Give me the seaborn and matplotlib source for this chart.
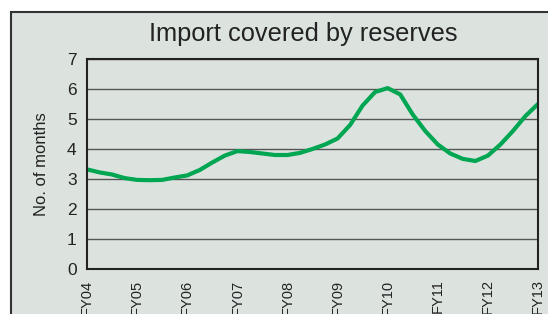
import numpy as np
import pandas as pd
import seaborn as sns
import matplotlib.pyplot as plt
from matplotlib.patches import Rectangle

# quarterly readings, FY04 .. FY13
quarter = [2004 + i * 0.25 for i in range(37)]
months = [3.32, 3.22, 3.15, 3.03, 2.97, 2.96, 2.97, 3.05, 3.12, 3.30,
          3.55, 3.78, 3.93, 3.90, 3.85, 3.80, 3.80, 3.87, 4.00, 4.15,
          4.35, 4.80, 5.45, 5.90, 6.03, 5.82, 5.15, 4.60, 4.15, 3.85,
          3.67, 3.60, 3.78, 4.15, 4.60, 5.10, 5.50]
fy_ticks = list(range(2004, 2014))
fy_labels = ["FY04", "FY05", "FY06", "FY07", "FY08", "FY09",
             "FY10", "FY11", "FY12", "FY13"]

df = pd.DataFrame({"t": quarter, "m": months})

sns.set_style("white")
plt.rcParams['font.family'] = ['Liberation Sans', 'DejaVu Sans']

bg = "#dce3df"
fig = plt.figure(figsize=(5.48, 3.14), dpi=100)
fig.patch.set_facecolor("white")
fig.patches.append(Rectangle((11 / 548, -0.1), 1.2, 1.1 - 12 / 314,
                             transform=fig.transFigure, facecolor=bg,
                             edgecolor="#333333", linewidth=1.5, zorder=-1))

ax = fig.add_axes([87 / 548, 1 - 269 / 314, (538 - 87) / 548, (269 - 59) / 314])
ax.set_zorder(1)
ax.set_facecolor(bg)

sns.lineplot(data=df, x="t", y="m", ax=ax, color="#00a651", linewidth=3,
             solid_joinstyle="round", solid_capstyle="round")

ax.set_xlim(2004, 2013)
ax.set_ylim(0, 7)
ax.set_yticks(range(0, 8))
ax.set_xticks(fy_ticks)
ax.set_xticklabels(fy_labels, rotation=90, fontsize=10.5, color="#222222")
ax.tick_params(axis="y", labelsize=12.5, colors="#222222", length=4, width=1.2)
ax.tick_params(axis="x", length=4, width=1.2, colors="#222222")
ax.yaxis.grid(True, color="#555555", linewidth=1)
ax.set_axisbelow(True)
for s in ax.spines.values():
    s.set_color("#222222")
    s.set_linewidth(1.5)

ax.set_xlabel("")
ax.set_ylabel("No. of months", fontsize=12, color="#222222", labelpad=13)
fig.text(303 / 548, 1 - 34 / 314, "Import covered by reserves",
         ha="center", va="center", fontsize=18.3, color="#222222")

fig.savefig("out.png", dpi=100)
